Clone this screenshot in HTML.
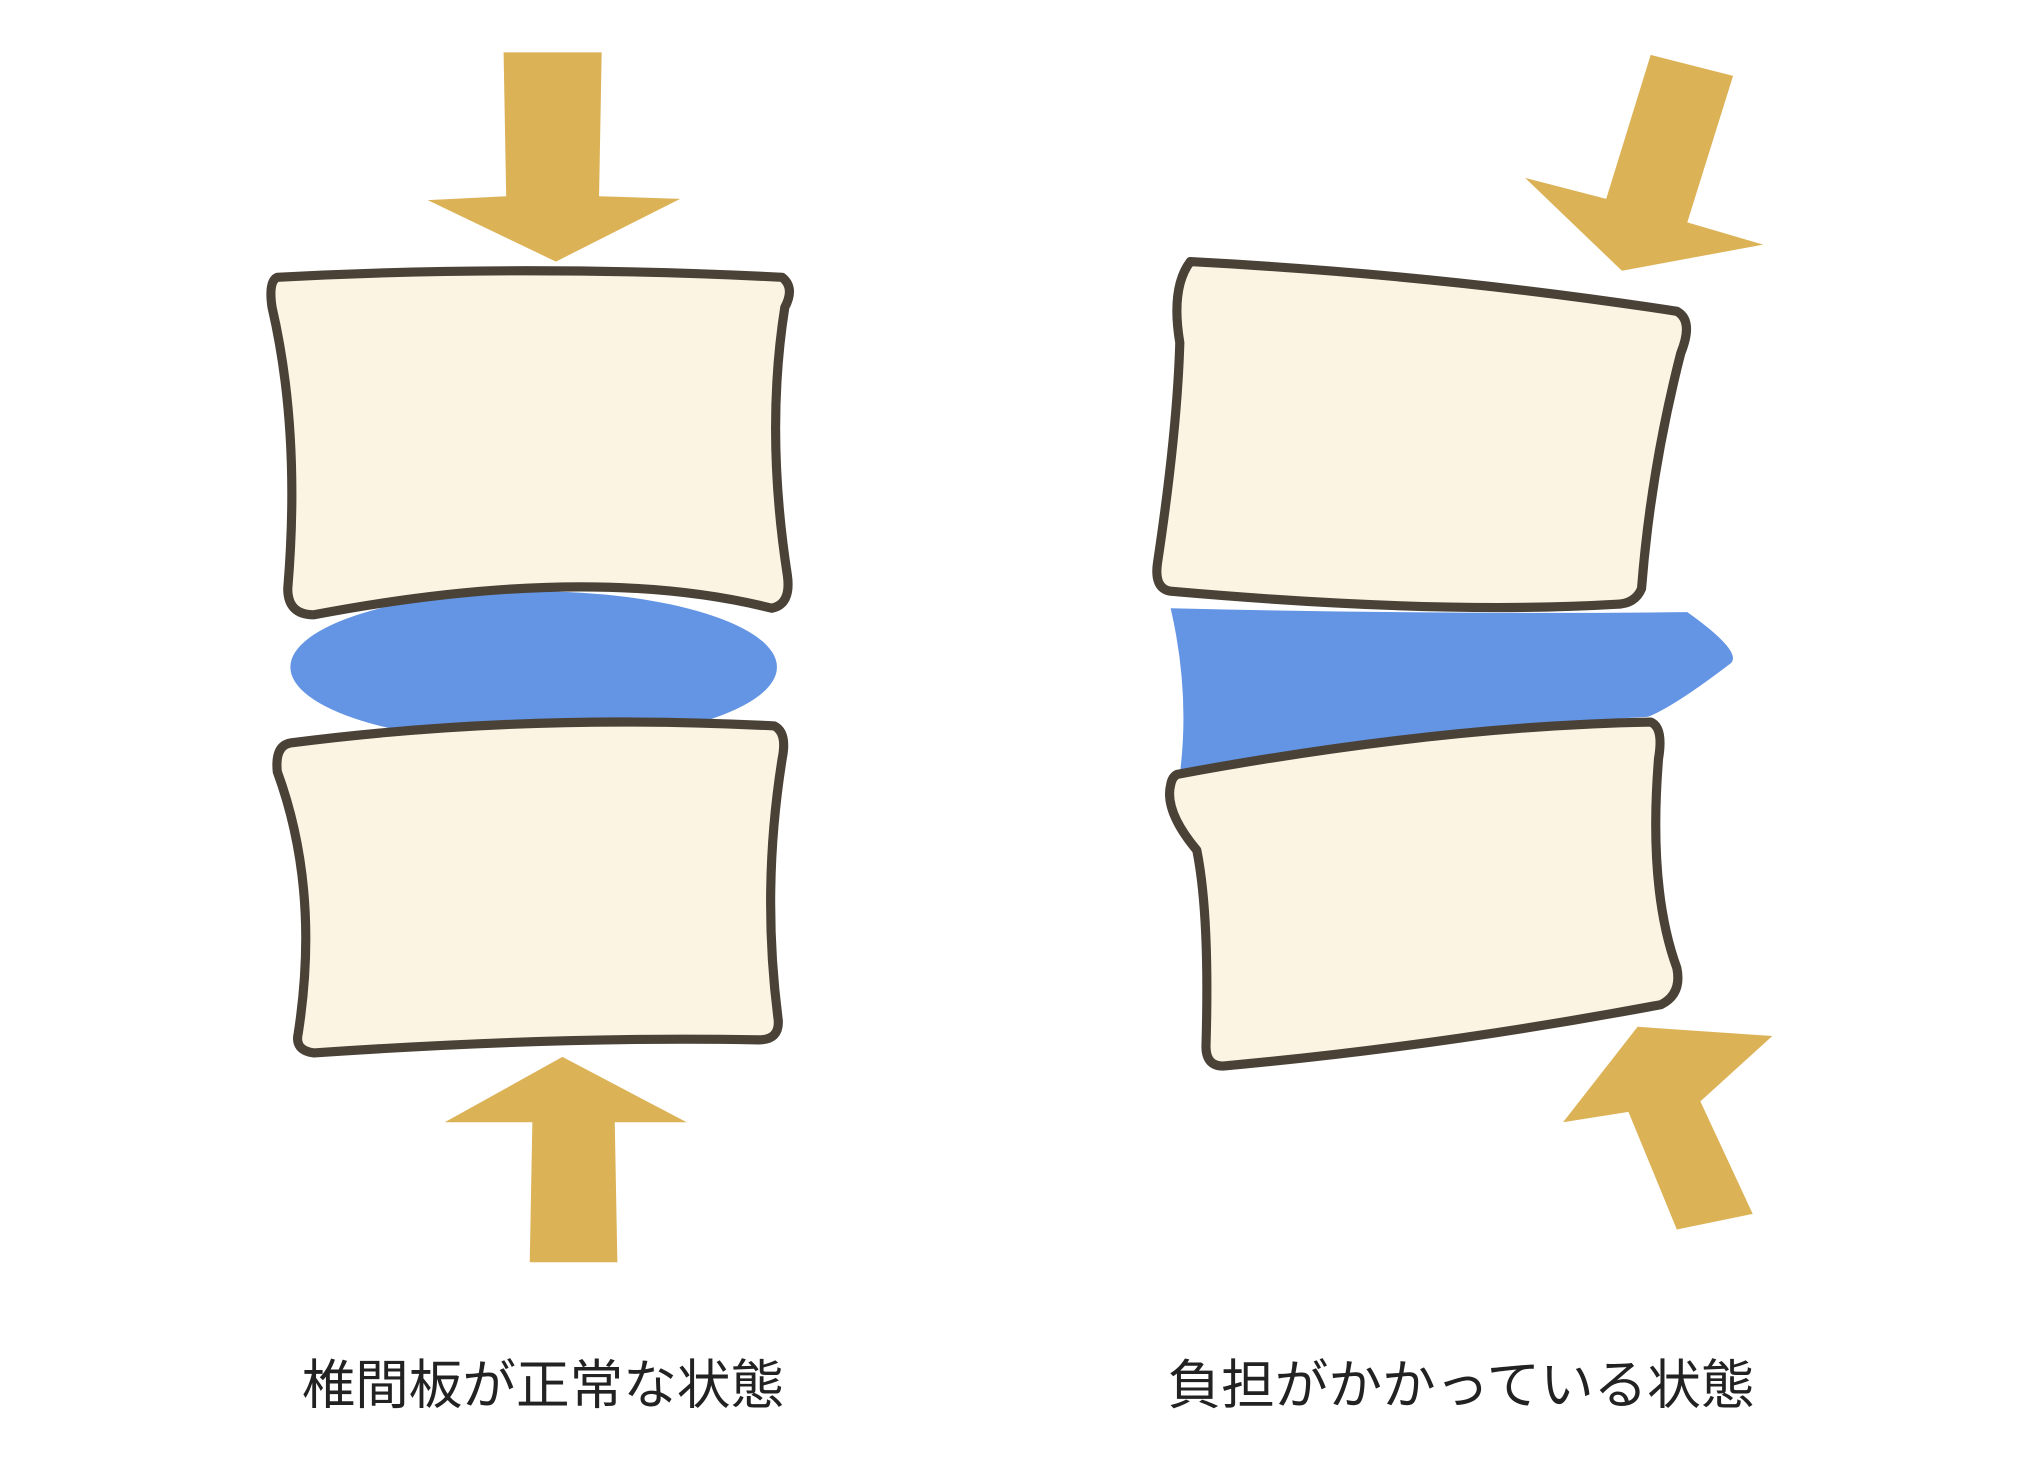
<!DOCTYPE html>
<html><head><meta charset="utf-8"><style>
html,body{margin:0;padding:0;background:#fff;}
svg{display:block;}
text{font-family:"Liberation Sans","Noto Sans CJK JP",sans-serif;fill:#222;}
</style></head><body>
<svg width="2030" height="1482" viewBox="0 0 1552 1133" preserveAspectRatio="none">
<polygon points="385,40 460,40 458,150 520,152 425,200 327,153 387,150" fill="#dcb257"/>
<ellipse cx="408" cy="510" rx="186" ry="58" fill="#6495e4"/>
<path d="M212,212 Q400,202 598,212 Q608,220 600,235 Q585,330 602,440 Q605,462 590,465 Q450,430 240,470 Q220,470 220,450 Q230,330 208,235 Q205,215 212,212 Z" fill="#fcf4e3" stroke="#4a4237" stroke-width="7" stroke-linejoin="round"/>
<path d="M222,568 Q400,545 592,555 Q602,560 598,580 Q582,680 595,780 Q596,795 580,795 Q430,792 240,805 Q225,803 228,790 Q245,680 212,590 Q210,570 222,568 Z" fill="#fcf4e3" stroke="#4a4237" stroke-width="7" stroke-linejoin="round"/>
<polygon points="430,808 525,858 470,858 472,965 405,965 407,858 340,858" fill="#dcb257"/>
<text x="415" y="1073" font-size="41" text-anchor="middle">椎間板が正常な状態</text>

<polygon points="1262,42 1325,58 1290,170 1348,187 1240,207 1166,136 1228,152" fill="#dcb257"/>
<path d="M895,465 Q1100,470 1290,468 Q1335,500 1322,508 Q1280,540 1260,548 Q1050,560 902,592 Q910,530 895,465 Z" fill="#6495e4"/>
<path d="M910,200 Q1100,210 1282,238 Q1295,245 1285,270 Q1262,360 1255,450 Q1250,462 1235,462 Q1100,470 895,452 Q882,450 885,430 Q900,330 902,262 Q895,220 910,200 Z" fill="#fcf4e3" stroke="#4a4237" stroke-width="7" stroke-linejoin="round"/>
<path d="M900,592 Q1100,555 1262,552 Q1272,556 1268,580 Q1260,680 1282,740 Q1286,760 1270,768 Q1100,800 935,815 Q922,815 922,800 Q925,700 915,650 Q890,620 895,600 Q896,594 900,592 Z" fill="#fcf4e3" stroke="#4a4237" stroke-width="7" stroke-linejoin="round"/>
<polygon points="1252,785 1355,792 1300,842 1340,928 1282,940 1245,850 1195,858" fill="#dcb257"/>
<text x="1117" y="1073" font-size="41" text-anchor="middle">負担がかかっている状態</text>
</svg>
</body></html>
